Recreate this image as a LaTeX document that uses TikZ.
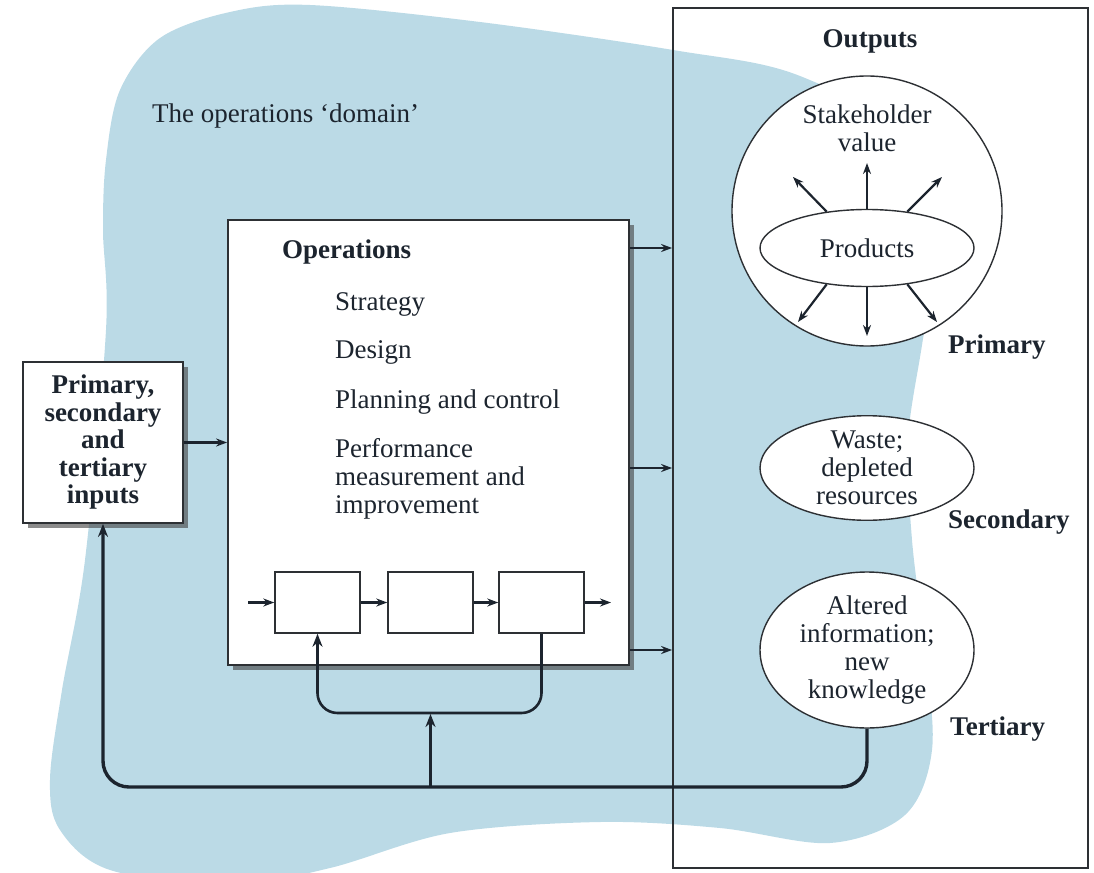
\documentclass[tikz,border=0pt]{standalone}
\usepackage{fontspec}
\setmainfont{Liberation Serif}
\usetikzlibrary{arrows.meta,shapes.geometric,shadows,calc}
\definecolor{domainblue}{RGB}{187,218,230}
\definecolor{ink}{RGB}{28,36,46}
\definecolor{frame}{RGB}{45,48,52}
\begin{document}
\begin{tikzpicture}[x=1pt,y=-1pt,
  every node/.style={font=\fontsize{27}{28}\selectfont, inner sep=0pt, text=ink},
  boldtxt/.style={font=\bfseries\fontsize{27}{27.5}\selectfont},
  boxed/.style={draw=frame, line width=1.8pt, fill=white},
  shadowed/.style={drop shadow={shadow xshift=5pt, shadow yshift=-5pt, fill=black!75, opacity=0.6}},
  stagebox/.style={draw=frame, line width=1.5pt, fill=white, minimum width=85, minimum height=61},
  oval/.style={ellipse, draw=frame, line width=1.4pt, fill=white, align=center},
  arr/.style={-{Stealth[length=11pt,width=8pt]}, line width=2.2pt, draw=ink},
  loopline/.style={line width=2.6pt, draw=ink, rounded corners=20pt},
  bus/.style={line width=3.4pt, draw=ink, rounded corners=26pt},
  bigtip/.style={-{Stealth[length=13pt,width=10pt]}}
]
\useasboundingbox (0,0) rectangle (1094,872);

% the operations domain
\begin{scope}
  \clip (0,0) rectangle (1094,872);
  \fill[domainblue] plot[smooth cycle, tension=0.55] coordinates {
    (106,330) (103,230) (106,160) (120,90) (160,38) (230,12)
    (310,5) (480,22) (673,50) (800,76) (925,150) (935,260)
    (922,345) (908,440) (912,540) (925,650) (932,750) (905,815) (830,843)
    (720,828) (600,822) (450,833) (330,868) (230,885) (110,870) (60,830)
    (50,780) (62,690) (85,560)};
\end{scope}

% outputs frame and output shapes
\node[draw=frame, line width=1.8pt, minimum width=415, minimum height=860] (outbox) at (880.5,438) {};
\node[circle, draw=frame, line width=1.4pt, fill=white, minimum size=270] (primcirc) at (867,211) {};
\node[oval, minimum width=214, minimum height=77] (prod) at (867,248) {Products};
\node[oval, minimum width=214, minimum height=100] (waste) at (867,468) {Waste;\\depleted\\resources};
\node[oval, minimum width=214, minimum height=156] (alt) at (867,650) {Altered\\information;\\new\\knowledge};

% operations box and inputs box
\node[boxed, shadowed, minimum width=401, minimum height=445] (ops) at (428.5,442.5) {};
\node[boxed, shadowed, minimum width=160, minimum height=161, align=center, boldtxt] (inputs) at (103,442.5)
  {Primary,\\secondary\\and\\tertiary\\inputs};

% process stages
\node[stagebox] (b1) at (317.5,602.5) {};
\node[stagebox] (b2) at (430.5,602.5) {};
\node[stagebox] (b3) at (541.5,602.5) {};
\coordinate (cin) at (248,602.5);
\coordinate (cout) at (611,602.5);
\draw[arr] (cin) -- (b1.west);
\draw[arr] (b1.east) -- (b2.west);
\draw[arr] (b2.east) -- (b3.west);
\draw[arr] (b3.east) -- (cout);

% flows
\draw[arr] (inputs.east) -- (ops.west);
\draw[arr] (ops.east |- prod.center) -- (outbox.west |- prod.center);
\draw[arr] (ops.east |- waste.center) -- (outbox.west |- waste.center);
\draw[arr] (ops.east |- alt.center) -- (outbox.west |- alt.center);

% products create stakeholder value
\coordinate (pu) at (867,163);
\coordinate (pul) at (793,177);
\coordinate (pur) at (942,177);
\coordinate (pd) at (867,336);
\coordinate (pdl) at (798,322);
\coordinate (pdr) at (937,322);
\draw[arr] (prod.north) -- (pu);
\draw[arr] (prod.138) -- (pul);
\draw[arr] (prod.42) -- (pur);
\draw[arr] (prod.south) -- (pd);
\draw[arr] (prod.222) -- (pdl);
\draw[arr] (prod.318) -- (pdr);

% feedback loops
\draw[loopline, bigtip] (b3.south) -- (b3.south |- 0,713) -- (b1.south |- 0,713) -- (b1.south);
\draw[loopline, bigtip] (b2.south |- 0,787) -- (b2.south |- 0,714);
\draw[bus, bigtip] (alt.south) -- (alt.south |- 0,787) -- (inputs.south |- 0,787) -- (inputs.south);

% labels
\node[anchor=base west] (domain) at (152,122) {The operations ‘domain’};
\node[anchor=base, boldtxt] (outlbl) at (870,48) {Outputs};
\node[align=center] (stake) at (867,128) {Stakeholder\\value};
\node[anchor=base west, boldtxt] (lprim) at (948,353) {Primary};
\node[anchor=base west, boldtxt] (lsec) at (948,528) {Secondary};
\node[anchor=base west, boldtxt] (lter) at (950,735) {Tertiary};
\node[anchor=base west, boldtxt] (opsttl) at (282,258) {Operations};
\node[anchor=base west] (t1) at (335,310) {Strategy};
\node[anchor=base west] (t2) at (335,358) {Design};
\node[anchor=base west] (t3) at (335,408) {Planning and control};
\node[anchor=west, align=left] (t4) at (335,479) {Performance\\measurement and\\improvement};
\end{tikzpicture}
\end{document}
